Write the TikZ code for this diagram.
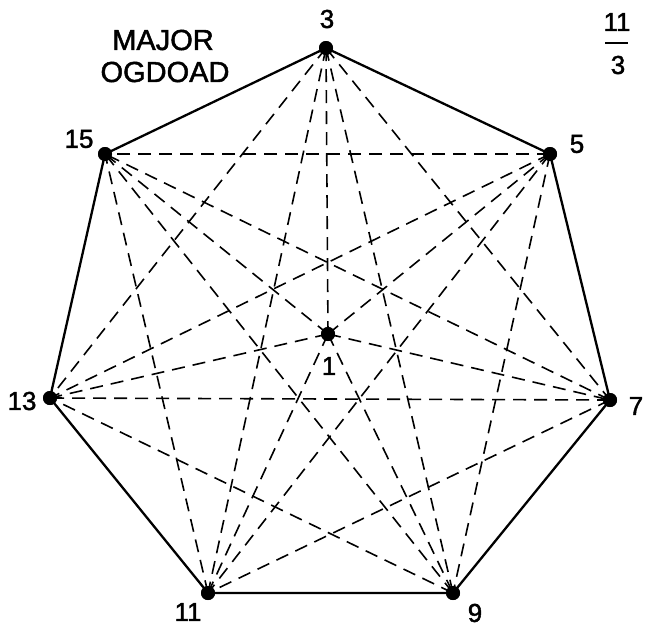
\documentclass[tikz,border=0pt]{standalone}
\usepackage{fontspec}
\setmainfont{Liberation Sans}
\newfontfamily\heavyfont{Liberation Sans}[FakeBold=1.6]
\begin{document}
\begin{tikzpicture}[x=1pt,y=-1pt,
  vert/.style={circle,fill=black,inner sep=0pt,minimum size=14pt},
  side/.style={line width=2.3pt},
  diag/.style={line width=1.6pt,dash pattern=on 13pt off 8pt},
  lab/.style={font=\heavyfont\fontsize{26}{26}\selectfont,inner sep=0pt},
  title/.style={font=\heavyfont\fontsize{29}{29}\selectfont,inner sep=0pt}]
\useasboundingbox (0,0) rectangle (645,627);
\node[vert] (v3)  at (326,48) {};
\node[vert] (v5)  at (550,154) {};
\node[vert] (v7)  at (610,400) {};
\node[vert] (v9)  at (453,593) {};
\node[vert] (v11) at (208,593) {};
\node[vert] (v13) at (50,398) {};
\node[vert] (v15) at (105,154) {};
\node[vert] (v1)  at (328,334) {};
% diagonals
\foreach \a/\b in {3/7,3/9,3/11,3/13,5/9,5/11,5/13,5/15,7/11,7/13,7/15,9/13,9/15,11/15}
  \draw[diag] (v\a.center) -- (v\b.center);
% spokes
\foreach \a in {3,5,7,9,11,13,15}
  \draw[diag] (v1.center) -- (v\a.center);
% sides
\draw[side] (v3.center) -- (v5.center) -- (v7.center) -- (v9.center) -- (v11.center) -- (v13.center) -- (v15.center) -- cycle;
% redraw dots on top
\foreach \a in {1,3,5,7,9,11,13,15}
  \fill (v\a) circle (7pt);
% labels
\node[lab] (l3)  at (327,19) {3};
\node[lab] (l5)  at (577,144) {5};
\node[lab] (l7)  at (636,406) {7};
\node[lab] (l9)  at (475,613) {9};
\node[lab] (l11) at (188,612) {11};
\node[lab] (l13) at (22,401) {13};
\node[lab] (l15) at (79,139) {15};
\node[lab] (l1)  at (329,366) {1};
\node[title] (t1) at (163,40) {MAJOR};
\node[title] (t2) at (165,72) {OGDOAD};
\node[lab] (f1) at (617,22) {11};
\node[lab] (f2) at (618,65) {3};
\coordinate (fa) at (605,43);
\coordinate (fb) at (628,43);
\draw[line width=1.6pt] (fa) -- (fb);
\end{tikzpicture}
\end{document}
